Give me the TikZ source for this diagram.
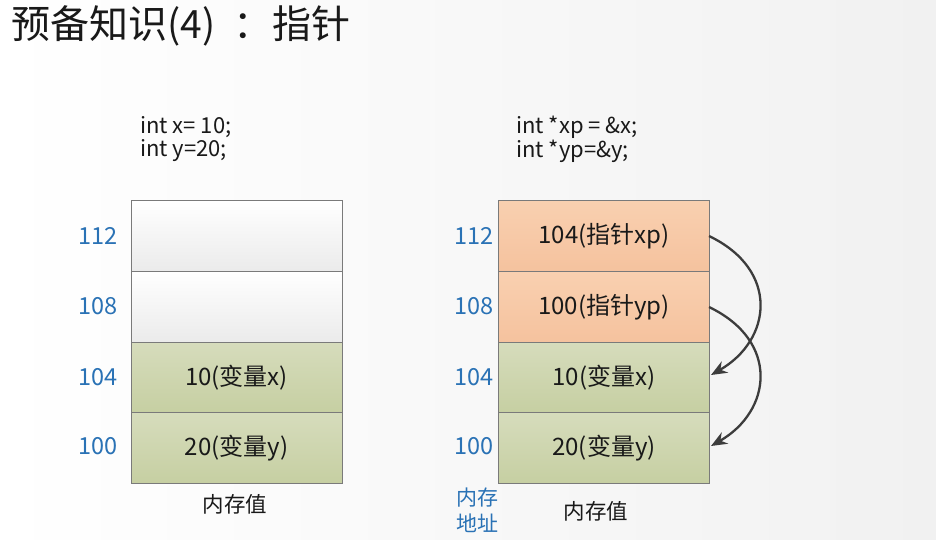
\documentclass[tikz,border=0pt]{standalone}
\usepackage{fontspec}
\setmainfont{Noto Sans CJK SC}
\usetikzlibrary{arrows.meta,shadings}
\definecolor{addrblue}{HTML}{2A72B5}
\definecolor{cellborder}{HTML}{7A7A7A}
\definecolor{orangetop}{HTML}{F9D0B0}
\definecolor{orangebot}{HTML}{F5C29E}
\definecolor{greentop}{HTML}{D6DCBC}
\definecolor{greenbot}{HTML}{C6CFA2}
\definecolor{arrowgray}{HTML}{3C3C3C}
\definecolor{bgright}{HTML}{F1F1F1}
\tikzset{
  cell/.style={draw=cellborder, line width=1pt, minimum width=211pt, minimum height=70.7pt, inner sep=0pt, font=\fontsize{24}{28}\selectfont, text=black!90},
  emptycell/.style={cell, top color=white, bottom color=black!8},
  ptrcell/.style={cell, top color=orangetop, bottom color=orangebot},
  varcell/.style={cell, top color=greentop, bottom color=greenbot},
  addr/.style={text=addrblue, font=\fontsize{23.5}{26}\selectfont, inner sep=0pt},
  code/.style={anchor=west, align=left, inner sep=0pt, font=\fontsize{22}{24}\selectfont, text=black!90},
  caption/.style={font=\fontsize{21.5}{26}\selectfont, text=black!90, inner sep=0pt},
  ptr/.style={draw=arrowgray, line width=2.3pt, -{Stealth[length=16pt,width=13pt]}},
}
\begin{document}
\begin{tikzpicture}[x=1pt,y=-1pt]
\useasboundingbox (0,0) rectangle (936,539);
\shade[left color=white, right color=bgright] (0,0) rectangle (936,539);
% title
\node[anchor=west, inner sep=0pt, font=\fontsize{39}{42}\selectfont, text=black!90] (title) at (11,26) {预备知识(4) \hspace{10pt}：指针};
% code
\node[code] (codeL1) at (140,127) {int x= 10;};
\node[code] (codeL2) at (140,151) {int y=20;};
\node[code] (codeR1) at (516,127) {int *xp = \&x;};
\node[code] (codeR2) at (516,151) {int *yp=\&y;};
% left cells
\node[emptycell] (L112) at (236.5,236.3) {};
\node[emptycell] (L108) at (236.5,307) {};
\node[varcell] (L104) at (236.5,377.5) {10(变量x)};
\node[varcell] (L100) at (236.5,448) {20(变量y)};
% right cells
\node[ptrcell] (R112) at (604,236.3) {104(指针xp)};
\node[ptrcell] (R108) at (604,307) {100(指针yp)};
\node[varcell] (R104) at (604,377.5) {10(变量x)};
\node[varcell] (R100) at (604,448) {20(变量y)};
% addresses
\node[addr] (a1) at (98,236) {112};
\node[addr] (a2) at (98,306) {108};
\node[addr] (a3) at (98,377) {104};
\node[addr] (a4) at (98,446) {100};
\node[addr] (b1) at (474,236) {112};
\node[addr] (b2) at (474,306) {108};
\node[addr] (b3) at (474,377) {104};
\node[addr] (b4) at (474,446) {100};
% captions
\node[caption] (capL) at (235,504) {内存值};
\node[caption] (capR) at (596,511) {内存值};
\node[caption, text=addrblue, align=center, font=\fontsize{21}{26}\selectfont] (capA) at (477,510) {内存\\地址};
% pointers
\coordinate (s1) at (709,236);
\coordinate (e1) at (711,375);
\coordinate (s2) at (709,307);
\coordinate (e2) at (711,446);
\draw[ptr] (s1) .. controls (780,270) and (772,340) .. (e1);
\draw[ptr] (s2) .. controls (780,341) and (772,411) .. (e2);
\end{tikzpicture}
\end{document}
